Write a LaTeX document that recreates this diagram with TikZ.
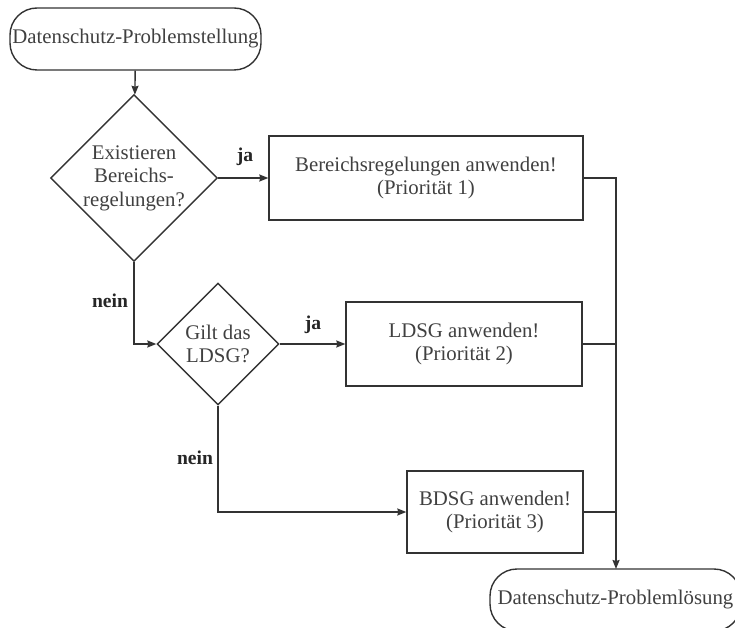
\documentclass[tikz,border=0pt]{standalone}
\usepackage{fontspec}
\setmainfont{Liberation Serif}
\usetikzlibrary{shapes.geometric,arrows.meta}
\begin{document}
\begin{tikzpicture}[x=1pt,y=-1pt,
  every node/.style={font=\fontsize{20.8}{23.5}\selectfont, text=black!75},
  line/.style={draw=black!80, line width=1.4pt},
  arr/.style={line, -{Stealth[length=9pt,width=7pt,inset=1pt]}},
  terminal/.style={line, rectangle, rounded corners=27pt, minimum width=251pt, minimum height=62pt, inner sep=0pt},
  decision/.style={line, diamond, align=center, inner sep=0pt},
  action/.style={line, rectangle, align=center, inner sep=0pt, minimum height=84pt},
  answer/.style={font=\fontsize{19.6}{22}\bfseries\selectfont, text=black!85, inner sep=0pt}
]
\useasboundingbox (0,0) rectangle (735,628);
\clip (0,0) rectangle (735,628);

% start and end terminals
\node[terminal] (start) at (135.5,39) {Datenschutz-Problemstellung};
\node[terminal] (end) at (615.5,600) {Datenschutz-Probleml\"osung};

% decisions
\node[decision, minimum width=163pt, minimum height=160pt] (d1) at (134,178)
  {Existieren\\Bereichs-\\regelungen?};
\node[decision, minimum width=122pt, minimum height=122pt] (d2) at (218,344)
  {Gilt das\\LDSG?};

% actions
\node[action, minimum width=314pt] (b1) at (426,178)
  {Bereichsregelungen anwenden!\\(Priorit\"at 1)};
\node[action, minimum width=236pt] (b2) at (464,344)
  {LDSG anwenden!\\(Priorit\"at 2)};
\node[action, minimum width=176pt, minimum height=82pt] (b3) at (495,512)
  {BDSG anwenden!\\(Priorit\"at 3)};

% flow
\draw[arr] (start) -- (d1);
\draw[arr] (d1.east) -- (b1.west);
\draw[arr] (d1.south) |- (d2.west);
\draw[arr] (d2.east) -- (b2.west);
\draw[arr] (d2.south) |- (b3.west);

% collecting line into the end terminal
\coordinate (bus) at (616,569);
\draw[arr] (b1.east) -| (bus);
\draw[line] (b2.east) -- (b2.east -| bus);
\draw[line] (b3.east) -- (b3.east -| bus);

% branch labels
\node[answer] (ja1) at (245,157) {ja};
\node[answer] (ja2) at (313,325) {ja};
\node[answer] (nein1) at (110,301) {nein};
\node[answer] (nein2) at (195,458) {nein};
\end{tikzpicture}
\end{document}
